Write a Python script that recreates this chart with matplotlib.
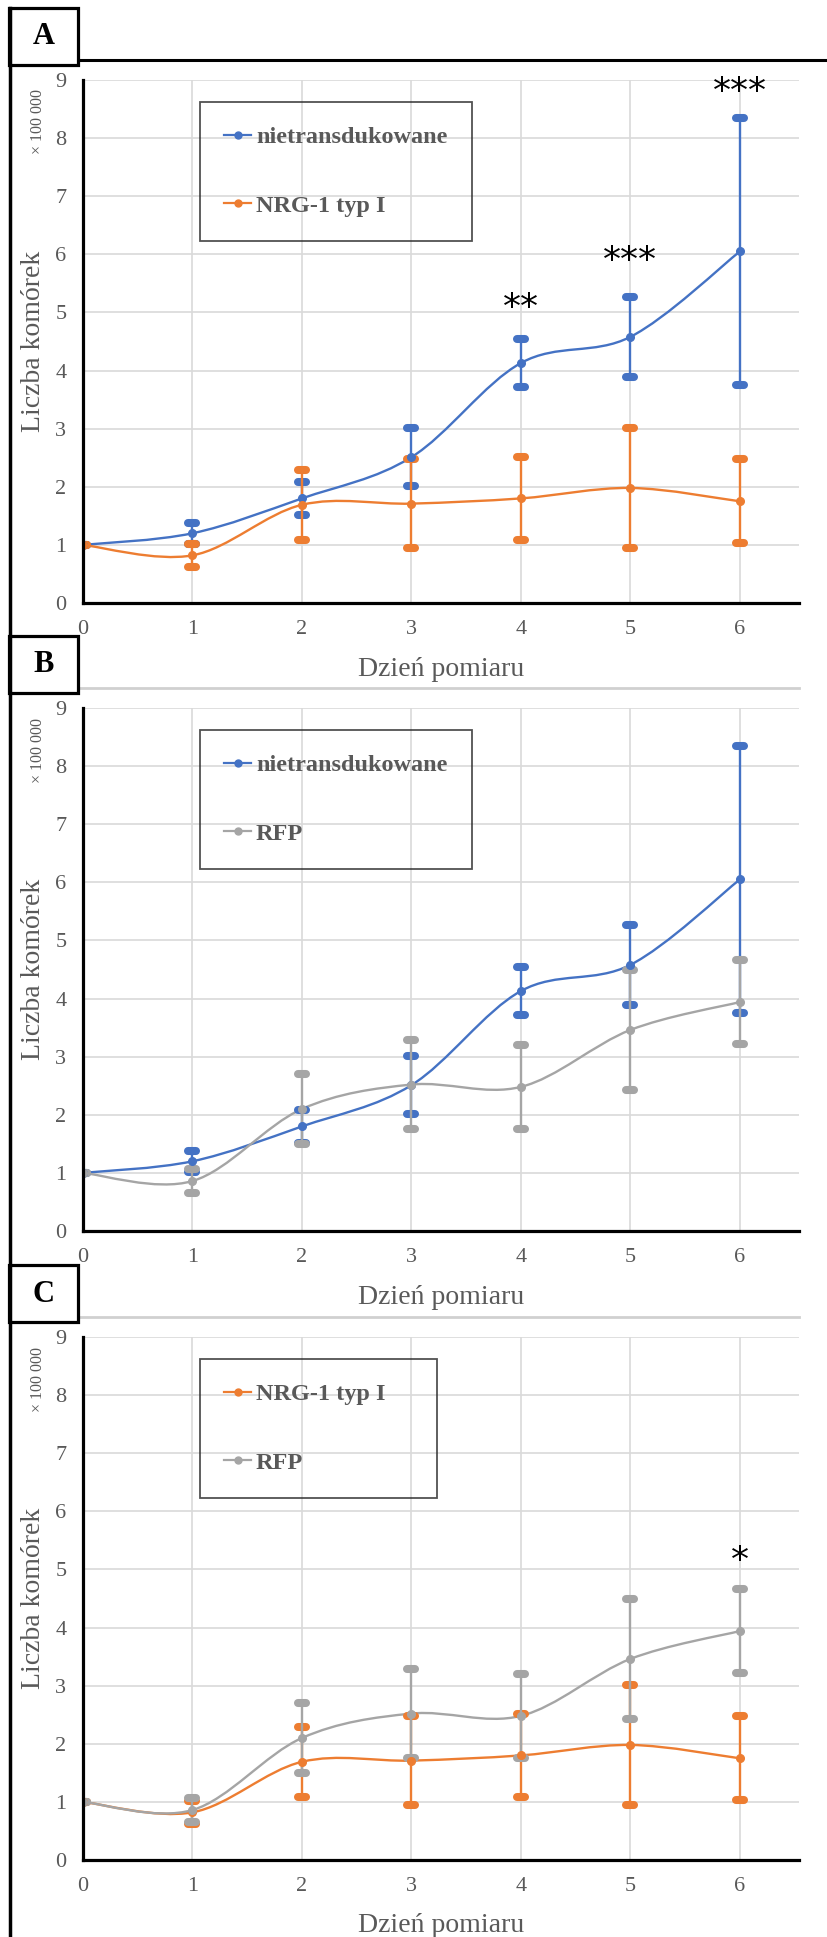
import numpy as np
import matplotlib
matplotlib.use('Agg')
import matplotlib.pyplot as plt
from matplotlib.path import Path
from matplotlib.patches import PathPatch, Rectangle
from matplotlib.lines import Line2D
from matplotlib.markers import MarkerStyle

# data (cell count x 100 000)
days = [0, 1, 2, 3, 4, 5, 6]
nietrans = [1.0, 1.20, 1.80, 2.51, 4.13, 4.58, 6.05]
nietrans_err = [0.0, 0.185, 0.29, 0.495, 0.41, 0.69, 2.29]
nrg = [1.0, 0.82, 1.69, 1.71, 1.80, 1.98, 1.75]
nrg_err = [0.0, 0.20, 0.60, 0.77, 0.71, 1.03, 0.72]
rfp = [1.0, 0.86, 2.10, 2.52, 2.48, 3.46, 3.94]
rfp_err = [0.0, 0.20, 0.61, 0.77, 0.72, 1.03, 0.72]

stars_a_x = [4, 5, 6]
stars_a_y = [5.08, 5.88, 8.80]
stars_a_txt = ["**", "***", "***"]
stars_c_x = [6]
stars_c_y = [5.15]
stars_c_txt = ["*"]

yticks = list(range(0, 10))
xticks = list(range(0, 7))

BLUE = "#4472C4"
ORANGE = "#ED7D31"
GRAY = "#A5A5A5"
TXT = "#595959"

plt.rcParams['font.family'] = ['Liberation Serif', 'DejaVu Sans']

W, H = 828, 1937
fig = plt.figure(figsize=(W / 100, H / 100), dpi=100)
fig.patch.set_facecolor('white')


def fx(px):
    return px / W


def fy(py):
    return 1 - py / H


def smooth_path(xs, ys):
    # excel-like smoothed line: cubic bezier through the points
    pts = np.column_stack([xs, ys]).astype(float)
    n = len(pts)
    verts = [pts[0]]
    codes = [Path.MOVETO]
    for i in range(n - 1):
        p0 = pts[max(i - 1, 0)]
        p1 = pts[i]
        p2 = pts[i + 1]
        p3 = pts[min(i + 2, n - 1)]
        verts += [p1 + (p2 - p0) / 6, p2 - (p3 - p1) / 6, p2]
        codes += [Path.CURVE4] * 3
    return Path(verts, codes)


panels = [
    ("A", [(nietrans, nietrans_err, BLUE, "nietransdukowane"),
           (nrg, nrg_err, ORANGE, "NRG-1 typ I")],
     (stars_a_x, stars_a_y, stars_a_txt), 472),
    ("B", [(nietrans, nietrans_err, BLUE, "nietransdukowane"),
           (rfp, rfp_err, GRAY, "RFP")],
     None, 472),
    ("C", [(nrg, nrg_err, ORANGE, "NRG-1 typ I"),
           (rfp, rfp_err, GRAY, "RFP")],
     (stars_c_x, stars_c_y, stars_c_txt), 437),
]

left, right = 83, 799
ph = 523
tops = [80, 708, 1337]

for (letter, series, stars, leg_right), top in zip(panels, tops):
    ax = fig.add_axes([fx(left), fy(top + ph), fx(right - left), ph / H])
    ax.set_facecolor('none')
    ax.set_xlim(0, 6.54)
    ax.set_ylim(0, 9)
    ax.set_xticks(xticks)
    ax.set_yticks(yticks)
    ax.grid(True, color='#d9d9d9', lw=1.2, zorder=0)
    ax.set_axisbelow(True)
    for s in ['top', 'right']:
        ax.spines[s].set_visible(False)
    for s in ['left', 'bottom']:
        ax.spines[s].set_linewidth(2.3)
        ax.spines[s].set_color('black')
        ax.spines[s].set_zorder(5)
    ax.tick_params(length=0, labelsize=16, labelcolor=TXT, pad=12)

    ax.set_ylabel("Liczba komórek", fontsize=20, color=TXT, va='center')
    ax.yaxis.set_label_coords((34 - left) / (right - left), 0.5)
    ax.set_xlabel("Dzień pomiaru", fontsize=20, color=TXT, va='center')
    ax.xaxis.set_label_coords(0.5, -66 / ph)
    ax.text((38 - left) / (right - left), 1 - 42 / ph, "× 100 000",
            rotation=90, ha='center', va='center', fontsize=11.5, color=TXT,
            transform=ax.transAxes)

    handles = []
    for vals, err, col, lab in series:
        ax.add_patch(PathPatch(smooth_path(days, vals), fill=False,
                               edgecolor=col, lw=1.7, zorder=3))
        _, caps, _ = ax.errorbar(days, vals, yerr=err, fmt='o', color=col,
                                 ms=5.5, elinewidth=1.7, capsize=3.2,
                                 capthick=5.8, zorder=4)
        for c in caps:
            c.set_marker(MarkerStyle('_', capstyle='round'))
        handles.append(Line2D([], [], color=col, marker='o', ms=5, lw=1.6,
                              label=lab))

    x0 = (200 - left) / (right - left)
    w = (leg_right - 200) / (right - left)
    leg = ax.legend(handles=handles, loc='upper left',
                    bbox_to_anchor=(x0, 0, w, 1 - 22 / ph), mode='expand',
                    borderaxespad=0, fancybox=False, borderpad=1.0,
                    handlelength=1.1, handletextpad=0.2, labelspacing=1.9,
                    prop={'family': 'Liberation Serif', 'weight': 'bold',
                          'size': 17.5})
    leg.get_frame().set_facecolor('none')
    leg.get_frame().set_edgecolor('#262626')
    leg.get_frame().set_linewidth(1.3)
    for t in leg.get_texts():
        t.set_color(TXT)

    if stars:
        for sx, sy, st in zip(*stars):
            ax.text(sx, sy, st, ha='center', va='center', fontsize=26,
                    family='DejaVu Sans', color='black', zorder=6)

    # panel frame: top line and letter box
    ytop = top - 20
    if letter == "A":
        fig.add_artist(Line2D([fx(78), fx(W)], [fy(ytop), fy(ytop)],
                              color='black', lw=2.2))
    else:
        fig.add_artist(Line2D([fx(78), fx(right)], [fy(ytop), fy(ytop)],
                              color='#d0d0d0', lw=2.0))
    bx0, by0 = 9, ytop - 52
    fig.add_artist(Rectangle((fx(bx0), fy(by0 + 57)), fx(69), 57 / H,
                             facecolor='white', edgecolor='black', lw=2.3,
                             transform=fig.transFigure, zorder=10))
    fig.text(fx(bx0 + 34.5), fy(by0 + 29), letter, ha='center', va='center',
             fontsize=22, fontweight='bold', color='black', zorder=11)

# outer left border
fig.add_artist(Line2D([fx(10), fx(10)], [fy(8), fy(H)], color='black',
                      lw=2.5, zorder=12))

fig.savefig("out.png", dpi=100)
